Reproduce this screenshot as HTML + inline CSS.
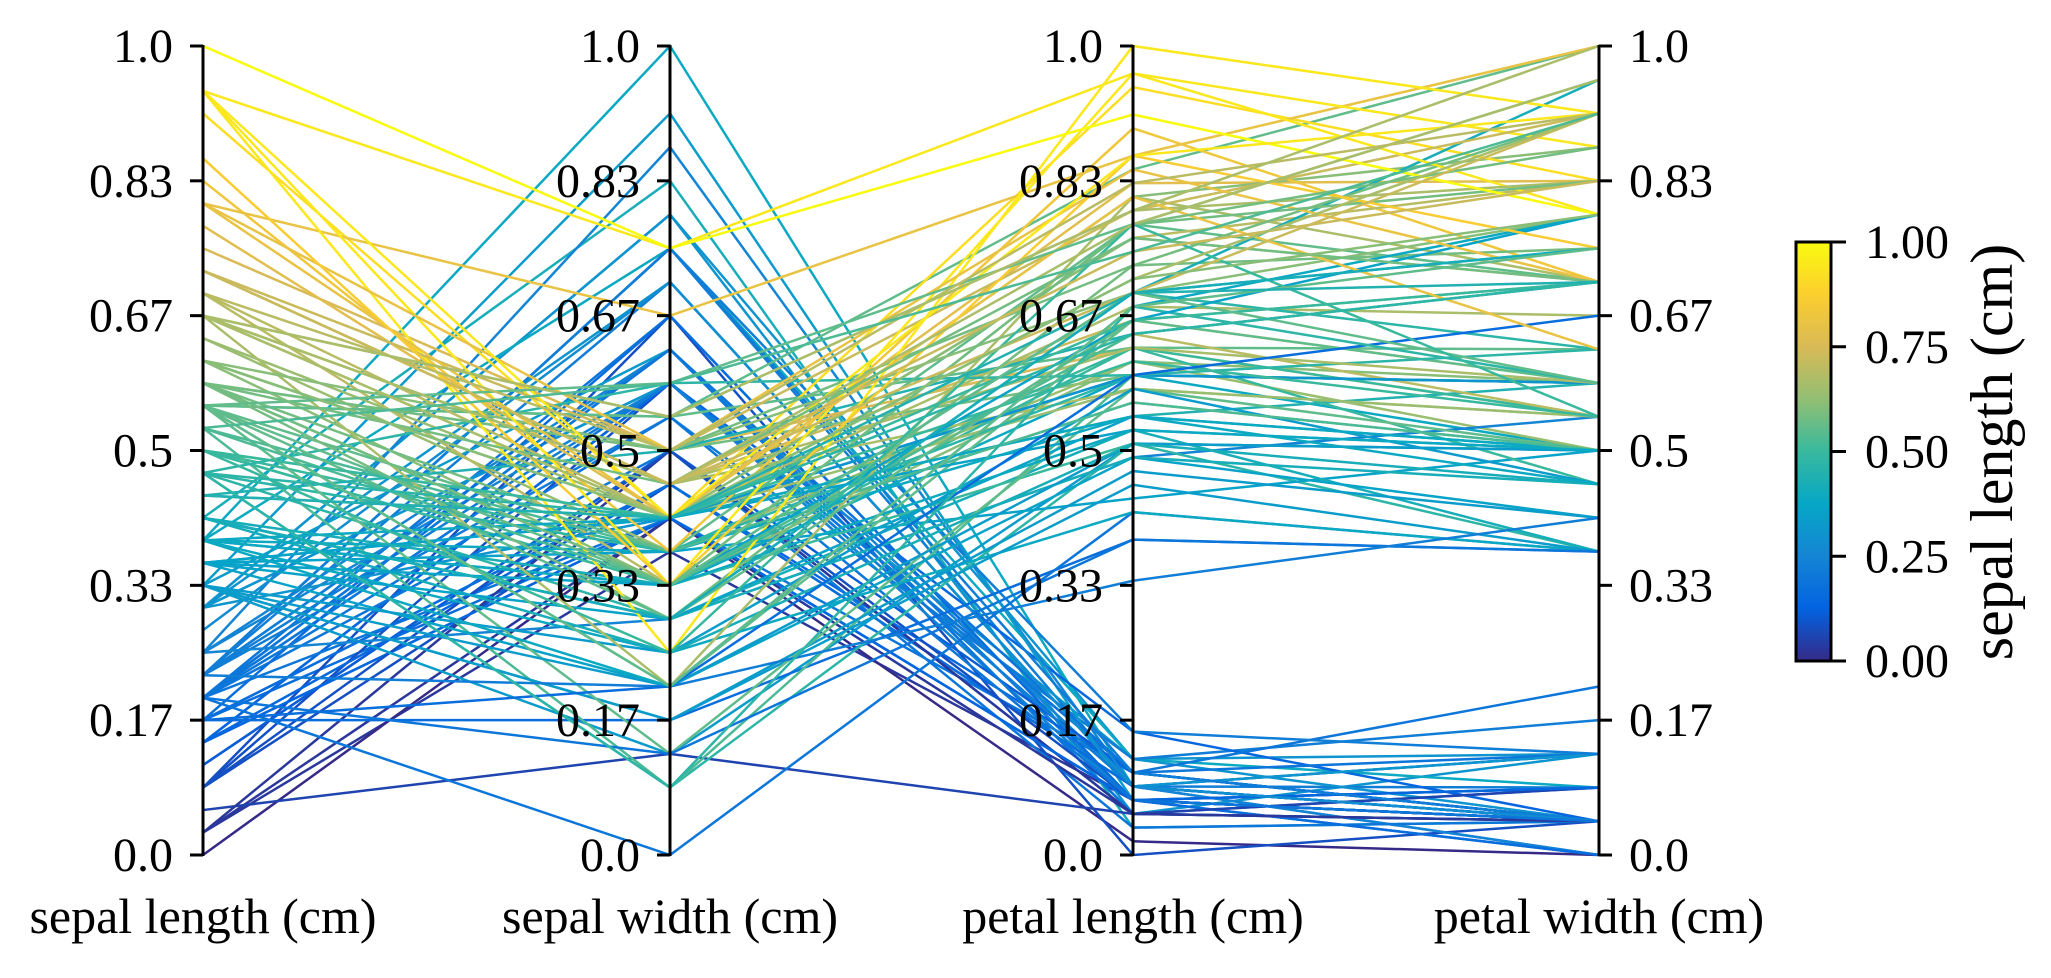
<!DOCTYPE html>
<html><head><meta charset="utf-8"><style>
html,body{margin:0;padding:0;background:#fff;}
svg text{font-family:"Liberation Serif",serif;fill:#000;}
</style></head><body>
<svg id="chart" width="2051" height="973" viewBox="0 0 2051 973" xmlns="http://www.w3.org/2000/svg">
<defs><linearGradient id="cbg" x1="0" y1="1" x2="0" y2="0">
<stop offset="0" stop-color="#352a87"/><stop offset="0.125" stop-color="#0363e1"/><stop offset="0.25" stop-color="#1485d4"/><stop offset="0.375" stop-color="#06a7c6"/><stop offset="0.5" stop-color="#38b99e"/><stop offset="0.625" stop-color="#92bf73"/><stop offset="0.75" stop-color="#d9ba56"/><stop offset="0.875" stop-color="#fcce2e"/><stop offset="1" stop-color="#f9fb0e"/>
</linearGradient></defs>
<g id="lines"></g>
<g id="axes"></g>
<g id="cbar"></g>
</svg>
<script>
const dims = ["sepal length (cm)","sepal width (cm)","petal length (cm)","petal width (cm)"];
const tickLabels = ["0.0","0.17","0.33","0.5","0.67","0.83","1.0"];
const cbarTicks = ["0.00","0.25","0.50","0.75","1.00"];
const sepalLength = [5.1,4.9,4.7,4.6,5.0,5.4,4.6,5.0,4.4,4.9,5.4,4.8,4.8,4.3,5.8,5.7,5.4,5.1,5.7,5.1,5.4,5.1,4.6,5.1,4.8,5.0,5.0,5.2,5.2,4.7,4.8,5.4,5.2,5.5,4.9,5.0,5.5,4.9,4.4,5.1,5.0,4.5,4.4,5.0,5.1,4.8,5.1,4.6,5.3,5.0,
7.0,6.4,6.9,5.5,6.5,5.7,6.3,4.9,6.6,5.2,5.0,5.9,6.0,6.1,5.6,6.7,5.6,5.8,6.2,5.6,5.9,6.1,6.3,6.1,6.4,6.6,6.8,6.7,6.0,5.7,5.5,5.5,5.8,6.0,5.4,6.0,6.7,6.3,5.6,5.5,5.5,6.1,5.8,5.0,5.6,5.7,5.7,6.2,5.1,5.7,
6.3,5.8,7.1,6.3,6.5,7.6,4.9,7.3,6.7,7.2,6.5,6.4,6.8,5.7,5.8,6.4,6.5,7.7,7.7,6.0,6.9,5.6,7.7,6.3,6.7,7.2,6.2,6.1,6.4,7.2,7.4,7.9,6.4,6.3,6.1,7.7,6.3,6.4,6.0,6.9,6.7,6.9,5.8,6.8,6.7,6.7,6.3,6.5,6.2,5.9];
const sepalWidth = [3.5,3.0,3.2,3.1,3.6,3.9,3.4,3.4,2.9,3.1,3.7,3.4,3.0,3.0,4.0,4.4,3.9,3.5,3.8,3.8,3.4,3.7,3.6,3.3,3.4,3.0,3.4,3.5,3.4,3.2,3.1,3.4,4.1,4.2,3.1,3.2,3.5,3.6,3.0,3.4,3.5,2.3,3.2,3.5,3.8,3.0,3.8,3.2,3.7,3.3,
3.2,3.2,3.1,2.3,2.8,2.8,3.3,2.4,2.9,2.7,2.0,3.0,2.2,2.9,2.9,3.1,3.0,2.7,2.2,2.5,3.2,2.8,2.5,2.8,2.9,3.0,2.8,3.0,2.9,2.6,2.4,2.4,2.7,2.7,3.0,3.4,3.1,2.3,3.0,2.5,2.6,3.0,2.6,2.3,2.7,3.0,2.9,2.9,2.5,2.8,
3.3,2.7,3.0,2.9,3.0,3.0,2.5,2.9,2.5,3.6,3.2,2.7,3.0,2.5,2.8,3.2,3.0,3.8,2.6,2.2,3.2,2.8,2.8,2.7,3.3,3.2,2.8,3.0,2.8,3.0,2.8,3.8,2.8,2.8,2.6,3.0,3.4,3.1,3.0,3.1,3.1,3.1,2.7,3.2,3.3,3.0,2.5,3.0,3.4,3.0];
const petalLength = [1.4,1.4,1.3,1.5,1.4,1.7,1.4,1.5,1.4,1.5,1.5,1.6,1.4,1.1,1.2,1.5,1.3,1.4,1.7,1.5,1.7,1.5,1.0,1.7,1.9,1.6,1.6,1.5,1.4,1.6,1.6,1.5,1.5,1.4,1.5,1.2,1.3,1.4,1.3,1.5,1.3,1.3,1.3,1.6,1.9,1.4,1.6,1.4,1.5,1.4,
4.7,4.5,4.9,4.0,4.6,4.5,4.7,3.3,4.6,3.9,3.5,4.2,4.0,4.7,3.6,4.4,4.5,4.1,4.5,3.9,4.8,4.0,4.9,4.7,4.3,4.4,4.8,5.0,4.5,3.5,3.8,3.7,3.9,5.1,4.5,4.5,4.7,4.4,4.1,4.0,4.4,4.6,4.0,3.3,4.2,4.2,4.2,4.3,3.0,4.1,
6.0,5.1,5.9,5.6,5.8,6.6,4.5,6.3,5.8,6.1,5.1,5.3,5.5,5.0,5.1,5.3,5.5,6.7,6.9,5.0,5.7,4.9,6.7,4.9,5.7,6.0,4.8,4.9,5.6,5.8,6.1,6.4,5.6,5.1,5.6,6.1,5.6,5.5,4.8,5.4,5.6,5.1,5.1,5.9,5.7,5.2,5.0,5.2,5.4,5.1];
const petalWidth = [0.2,0.2,0.2,0.2,0.2,0.4,0.3,0.2,0.2,0.1,0.2,0.2,0.1,0.1,0.2,0.4,0.4,0.3,0.3,0.3,0.2,0.4,0.2,0.5,0.2,0.2,0.4,0.2,0.2,0.2,0.2,0.4,0.1,0.2,0.2,0.2,0.2,0.1,0.2,0.2,0.3,0.3,0.2,0.6,0.4,0.3,0.2,0.2,0.2,0.2,
1.4,1.5,1.5,1.3,1.5,1.3,1.6,1.0,1.3,1.4,1.0,1.5,1.0,1.4,1.3,1.4,1.5,1.0,1.5,1.1,1.8,1.3,1.5,1.2,1.3,1.4,1.4,1.7,1.5,1.0,1.1,1.0,1.2,1.6,1.5,1.6,1.5,1.3,1.3,1.3,1.2,1.4,1.2,1.0,1.3,1.2,1.3,1.3,1.1,1.3,
2.5,1.9,2.1,1.8,2.2,2.1,1.7,1.8,1.8,2.5,2.0,1.9,2.1,2.0,2.4,2.3,1.8,2.2,2.3,1.5,2.3,2.0,2.0,1.8,2.1,1.8,1.8,1.8,2.1,1.6,1.9,2.0,2.2,1.5,1.4,2.3,2.4,1.8,1.8,2.1,2.4,2.3,1.9,2.3,2.5,2.3,1.9,2.0,2.3,1.8];

const NS="http://www.w3.org/2000/svg";
const axisX=[203,670,1133,1599], yTop=46, yBot=855;
const yScale=v=>yBot-v*(yBot-yTop);
const cmapStops=[[0,"#352a87"],[0.125,"#0363e1"],[0.25,"#1485d4"],[0.375,"#06a7c6"],[0.5,"#38b99e"],[0.625,"#92bf73"],[0.75,"#d9ba56"],[0.875,"#fcce2e"],[1,"#f9fb0e"]];
function hex(h){return [1,3,5].map(i=>parseInt(h.substr(i,2),16));}
function cmap(t){t=Math.max(0,Math.min(1,t));for(let i=0;i<cmapStops.length-1;i++){const [a,ca]=cmapStops[i],[b,cb]=cmapStops[i+1];if(t<=b){const f=(t-a)/(b-a),A=hex(ca),B=hex(cb);return "rgb("+A.map((v,k)=>Math.round(v+(B[k]-v)*f)).join(",")+")";}}return cmapStops[8][1];}
function norm(arr){const mn=Math.min(...arr),mx=Math.max(...arr);return arr.map(v=>(mn===mx)?0:(v-mn)/(mx-mn));}
const cols=[norm(sepalLength),norm(sepalWidth),norm(petalLength),norm(petalWidth)];
const gl=document.getElementById('lines');
for(let i=0;i<sepalLength.length;i++){
  const p=document.createElementNS(NS,'polyline');
  p.setAttribute('points',cols.map((c,k)=>axisX[k]+","+yScale(c[i]).toFixed(2)).join(" "));
  p.setAttribute('fill','none');p.setAttribute('stroke',cmap(cols[0][i]));p.setAttribute('stroke-width','2.5');
  
  
  gl.appendChild(p);
}
const ga=document.getElementById('axes');
function el(tag,attrs,parent,text){const e=document.createElementNS(NS,tag);for(const k in attrs)e.setAttribute(k,attrs[k]);if(text!==undefined)e.textContent=text;parent.appendChild(e);return e;}
axisX.forEach((x,k)=>{
  const right=k===3;
  const s=el('line',{x1:x,x2:x,y1:yTop-1,y2:yBot+1,stroke:'#000','stroke-width':3},ga);
  
  
  tickLabels.forEach((t,j)=>{
    const y=yScale(j/6);
    const tl=el('line',{x1:x,x2:right?x+13:x-13,y1:y,y2:y,stroke:'#000','stroke-width':3},ga);
    
    
    const tx=el('text',{x:right?x+30:x-30,y:y+16,'font-size':48,'text-anchor':right?'start':'end'},ga,t);
    
    
  });
  const lb=el('text',{x:x,y:933,'font-size':50,'text-anchor':'middle'},ga,dims[k]);
  
  
});
const gc=document.getElementById('cbar');
const cx0=1796,cx1=1831,cy0=242,cy1=661;
const r=el('rect',{x:cx0,y:cy0,width:cx1-cx0,height:cy1-cy0,fill:'url(#cbg)',stroke:'#000','stroke-width':3},gc);


cbarTicks.forEach((t,j)=>{
  const y=cy1-j/4*(cy1-cy0);
  const tl=el('line',{x1:cx1,x2:cx1+15,y1:y,y2:y,stroke:'#000','stroke-width':3},gc);
  
  
  const tx=el('text',{x:1865,y:y+16,'font-size':48},gc,t);
  
  
});
const cl=el('text',{x:0,y:0,'font-size':60,'text-anchor':'middle',transform:'translate(2012,452) rotate(-90)'},gc,'sepal length (cm)');


</script>
</body></html>
